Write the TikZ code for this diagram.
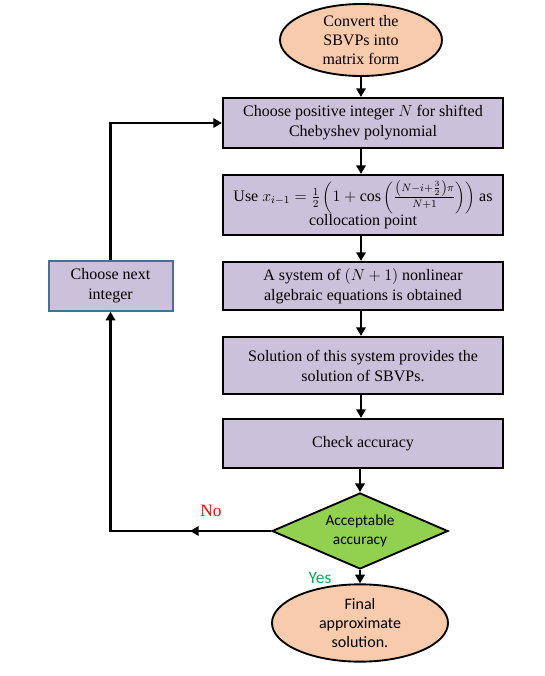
\documentclass[tikz,border=0pt]{standalone}
\usepackage{fontspec}
\setmainfont{Liberation Serif}
\newfontfamily\calibri{Carlito}
\usetikzlibrary{shapes.geometric,arrows.meta}
\definecolor{boxfill}{HTML}{CCC1DA}
\definecolor{ovalfill}{HTML}{F8CBAD}
\definecolor{testfill}{HTML}{92D050}
\definecolor{nextline}{HTML}{41719C}
\definecolor{yesgreen}{HTML}{00B050}
\tikzset{
  stepbox/.style={draw,line width=1.6pt,fill=boxfill,minimum width=210pt,
    inner sep=2pt,align=center,font=\fontsize{12}{15}\selectfont},
  oval/.style={ellipse,draw,line width=1.4pt,fill=ovalfill,inner sep=0pt,
    align=center,font=\fontsize{12}{14}\selectfont},
  arr/.style={line width=2.2pt,-{Triangle[length=6.5pt,width=7pt]}},
}
\begin{document}
\begin{tikzpicture}[x=0.75pt,y=-0.75pt]
\useasboundingbox (0,0) rectangle (544,676);
\node[oval,minimum width=121.5pt,minimum height=54pt] (start) at (361,40)
  {Convert the\\SBVPs into\\matrix form};
\node[stepbox,minimum height=37.5pt] (pickN) at (363,123)
  {Choose positive integer $N$ for shifted\\Chebyshev polynomial};
\node[stepbox,minimum height=45pt] (colloc) at (363,205)
  {Use $x_{i-1}=\frac{1}{2}\left(1+\cos\left(\frac{\left(N-i+\frac{3}{2}\right)\pi}{N+1}\right)\right)$ as\\collocation point};
\node[stepbox,minimum height=36pt] (system) at (363,286)
  {A system of $(N+1)$ nonlinear\\algebraic equations is obtained};
\node[stepbox,minimum height=42.75pt] (solve) at (363,365.5)
  {Solution of this system provides the\\solution of SBVPs.};
\node[stepbox,minimum height=36.75pt] (check) at (363,443.5) {Check accuracy};
\node[diamond,draw,line width=1.4pt,fill=testfill,aspect=2.3,inner sep=0pt,
  minimum width=132pt,minimum height=57pt,align=center,
  font=\calibri\fontsize{11.5}{14}\selectfont] (test) at (360,531)
  {Acceptable\\accuracy};
\node[oval,minimum width=132pt,minimum height=58pt,
  font=\calibri\fontsize{12}{14.5}\selectfont] (final) at (360,623)
  {Final\\approximate\\solution.};
\node[draw=nextline,line width=1.5pt,fill=boxfill,minimum width=93pt,
  minimum height=37pt,inner sep=2pt,align=center,
  font=\fontsize{12}{15}\selectfont] (nextN) at (110.5,286) {Choose next\\integer};
\node[text=red,font=\fontsize{13}{15}\selectfont] (nolab) at (211,511) {No};
\node[text=yesgreen,font=\calibri\fontsize{13}{15}\selectfont] (yeslab) at (320,578) {Yes};
\coordinate (nomid) at (190,531);
% main chain
\draw[arr] (start) -- (start |- pickN.north);
\draw[arr] (pickN.south -| start) -- (colloc.north -| start);
\draw[arr] (colloc.south -| start) -- (system.north -| start);
\draw[arr] (system.south -| start) -- (solve.north -| start);
\draw[arr] (solve.south -| start) -- (check.north -| start);
\draw[arr] (check.south -| test) -- (test.north);
\draw[arr] (test.south) -- (final.north);
% loop back
\draw[arr] (test.west) -- (nomid);
\draw[arr] (test.west) -| (nextN.south);
\draw[arr] (nextN.north) |- (pickN.west);
\end{tikzpicture}
\end{document}
